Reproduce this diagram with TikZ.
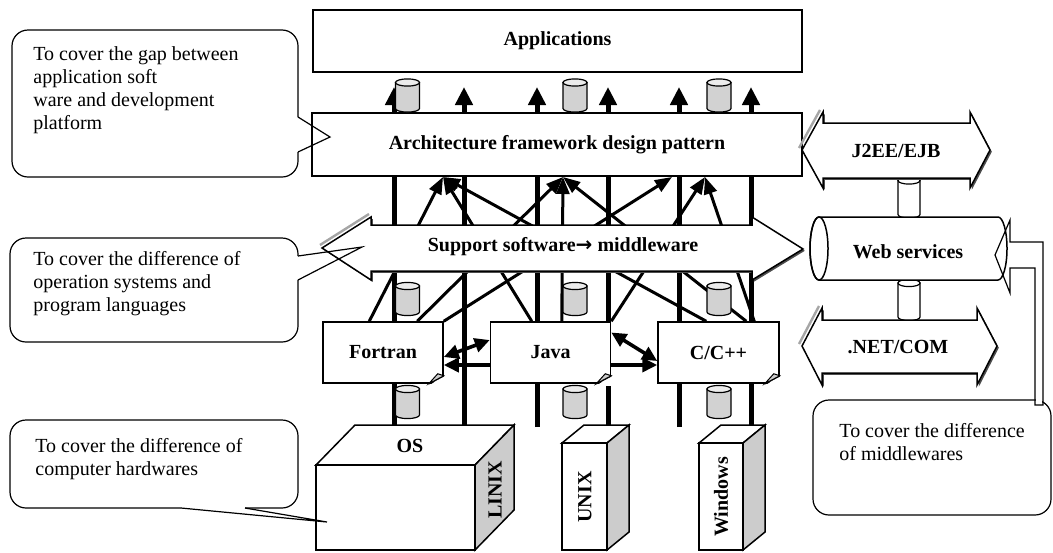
\documentclass[tikz,border=0pt]{standalone}
\usepackage{fontspec}
\setmainfont{Liberation Serif}
\newfontfamily\symfont{DejaVu Sans}
\usetikzlibrary{arrows.meta,shadows}

\tikzset{
  column/.style={line width=2.5pt,-{Triangle[length=9pt,width=8.5pt]}},
  tie/.style={line width=1.5pt,-{Triangle[length=8.5pt,width=6.5pt]}},
  xchg/.style={line width=1.8pt,{Triangle[length=7.5pt,width=7pt]}-{Triangle[length=7.5pt,width=7pt]}},
  oneway/.style={line width=1.8pt,-{Triangle[length=7.5pt,width=7pt]}},
  box/.style={draw,fill=white,line width=0.75pt,font=\bfseries,inner sep=0pt},
  lang/.style={box,minimum width=60pt,minimum height=30.5pt},
  flow/.style={fill=white,line width=0.75pt,drop shadow={shadow xshift=0.9pt,shadow yshift=-0.9pt,fill=black!70,opacity=1}},
  bevel/.style={gray!70,line width=1.2pt},
  hw/.style={line width=0.75pt},
  bubble/.style={line width=0.6pt,rounded corners=8pt},
  callout/.style={line width=0.6pt},
  note/.style={anchor=north west,align=left,inner sep=0pt,font=\fontsize{10pt}{11.5pt}\selectfont},
  can/.pic={
    \draw[line width=0.6pt,fill=gray!35] (-6pt,6.5pt) -- (-6pt,-6.5pt)
      arc[start angle=180,end angle=360,x radius=6pt,y radius=1.8pt] -- (6pt,6.5pt) -- cycle;
    \draw[line width=0.6pt,fill=gray!15] (0pt,6.5pt) ellipse[x radius=6pt,y radius=1.8pt];
  },
  link/.pic={
    \draw[line width=0.6pt,fill=white] (-5.5pt,8.5pt) -- (-5.5pt,-8.5pt)
      arc[start angle=180,end angle=360,x radius=5.5pt,y radius=1.8pt] -- (5.5pt,8.5pt) -- cycle;
    \draw[line width=0.6pt,fill=white] (0pt,8.5pt) ellipse[x radius=5.5pt,y radius=1.8pt];
  }
}

\begin{document}
\begin{tikzpicture}[x=0.5pt,y=-0.5pt]
\useasboundingbox (0,0) rectangle (1053,552);

% columns from the hardware up to the applications
\foreach \x in {394,464,537,608,679,751}
  \draw[column] (\x,427) -- (\x,87);

% program languages
\node[lang] (fortran) at (383,352.5) {Fortran};
\node[lang] (java) at (550.5,352.5) {Java};
\node[lang,minimum width=60.5pt] (cpp) at (718.5,352.5) {C/C++};
\foreach \n in {fortran,java,cpp}{
  \fill[white] ([shift={(-7.5pt,-1pt)}]\n.south east) -- ([shift={(1pt,-1pt)}]\n.south east)
    -- ([shift={(1pt,4.6pt)}]\n.south east) -- cycle;
  \draw[line width=0.75pt] ([xshift=-7.5pt]\n.south east) -- ([yshift=4pt]\n.south east);
  \draw[line width=0.5pt,fill=gray!40] ([xshift=-7.5pt]\n.south east) -- ([yshift=4pt]\n.south east)
    -- ([shift={(-3pt,5pt)}]\n.south east) -- cycle;
}

% two upper layers
\node[box,minimum width=244.5pt,minimum height=31pt] (apps) at (557.5,41) {Applications};
\node[box,minimum width=245pt,minimum height=31.5pt] (arch) at (557,144.5) {Architecture framework design pattern};

% languages tied to the pattern layer
\coordinate (t1) at (443,177);
\coordinate (t2) at (563,177);
\coordinate (t3) at (672,177);
\coordinate (t4) at (705,177);
\draw[tie] ([xshift=23.5pt]fortran.north west) -- (t1);
\draw[tie] ([xshift=47.5pt]fortran.north west) -- (t2);
\draw[tie] (fortran.north east) -- (t3);
\draw[tie] ([xshift=21pt]java.north west) -- (t1);
\draw[tie] ([xshift=36pt]java.north west) -- (t2);
\draw[tie] (java.north east) -- (t4);
\draw[tie] ([xshift=24.5pt]cpp.north west) -- (t1);
\draw[tie] ([xshift=44.5pt]cpp.north west) -- (t2);
\draw[tie] ([xshift=48.5pt]cpp.north west) -- (t4);

% middleware arrow
\draw[flow] (322,248) -- (371,217) -- (371,225) -- (752,225) -- (752,217) -- (803,249)
  -- (752,280) -- (752,271) -- (371,271) -- (371,280) -- cycle;
\draw[bevel] (320,245) -- (369,214);
\node[font=\bfseries] (support) at (563,247) {Support software{\symfont\bfseries →} middleware};

% cans on the columns
\foreach \x in {407.5,575,719}{
  \pic at (\x,95.5) {can};
  \pic at (\x,299) {can};
  \pic at (\x,402) {can};
}

% calls between languages
\draw[xchg] ([yshift=-2.25pt]fortran.east) -- ([yshift=6.25pt]java.west);
\draw[oneway] ([yshift=-6.25pt]java.west) -- ([yshift=-6.25pt]fortran.east);
\draw[xchg] ([yshift=10pt]java.east) -- ([yshift=-4.25pt]cpp.west);
\draw[oneway] ([yshift=-6.25pt]java.east) -- ([yshift=-6.25pt]cpp.west);

% hardware
\draw[hw,fill=white] (316,465) -- (355,425) -- (514,425) -- (475,465) -- cycle;
\draw[hw,fill=white] (316,465) rectangle (475,550);
\draw[hw,fill=gray!40] (475,465) -- (514,425) -- (514,510) -- (475,550) -- cycle;
\node[font=\bfseries] (os) at (410,446) {OS};
\node[font=\bfseries,rotate=90] (linix) at (495,490) {LINIX};

\draw[hw,fill=white] (562,443) -- (584,425) -- (629,425) -- (607,443) -- cycle;
\draw[hw,fill=white] (562,443) rectangle (607,550);
\draw[hw,fill=gray!40] (607,443) -- (629,425) -- (629,532) -- (607,550) -- cycle;
\node[font=\bfseries,rotate=90] (unix) at (585,497) {UNIX};

\draw[hw,fill=white] (699,443) -- (721,425) -- (765,425) -- (743,443) -- cycle;
\draw[hw,fill=white] (699,443) rectangle (743,550);
\draw[hw,fill=gray!40] (743,443) -- (765,425) -- (765,532) -- (743,550) -- cycle;
\node[font=\bfseries,rotate=90] (windows) at (721,497) {Windows};

% middlewares
\pic at (909,197.5) {link};
\pic at (909,300) {link};
\draw[flow] (802,150) -- (823,112) -- (823,123) -- (970,123) -- (970,112) -- (990,150)
  -- (970,188) -- (970,178) -- (823,178) -- (823,188) -- cycle;
\draw[bevel] (799,148) -- (820,110);
\node[font=\bfseries] (j2ee) at (896,151) {J2EE/EJB};
\draw[flow] (802,346) -- (822,308) -- (822,320) -- (977,320) -- (977,308) -- (997,346)
  -- (977,385) -- (977,373) -- (822,373) -- (822,385) -- cycle;
\draw[bevel] (799,344) -- (819,306);
\node[font=\bfseries] (net) at (898,347) {.NET/COM};
\begin{scope}[shift={(908.5,248.5)}]
  \draw[line width=0.75pt,fill=white] (-44.75pt,15.75pt) -- (44.75pt,15.75pt)
    arc[start angle=90,end angle=-90,x radius=4.5pt,y radius=15.75pt] -- (-44.75pt,-15.75pt)
    arc[start angle=270,end angle=90,x radius=4.5pt,y radius=15.75pt] -- cycle;
  \draw[line width=0.75pt] (-44.75pt,0pt) ellipse[x radius=4.5pt,y radius=15.75pt];
\end{scope}
\node[font=\bfseries] (web) at (908,252) {Web services};

% remarks
\draw[bubble] (298,117) -- (298,30) -- (12,30) -- (12,177) -- (298,177) -- (298,152);
\draw[callout] (298,117) -- (330,137) -- (298,152);
\node[note] (gapnote) at (33,46) {To cover the gap between\\application soft\\ware and development\\platform};

\draw[bubble] (298,256) -- (298,238) -- (10,238) -- (10,342) -- (298,342) -- (298,280);
\draw[callout] (298,256) -- (362,247) -- (298,280);
\node[note] (langnote) at (33,251) {To cover the difference of\\operation systems and\\program languages};

\draw[bubble] (813,400) rectangle (1051,515);
\fill[white] (1035.8,397) rectangle (1042.2,403);
\draw[callout] (1035,405) -- (1035,268) -- (1010,268) -- (1010,293) -- (995,255) -- (1010,220)
  -- (1010,242) -- (1043,242) -- (1043,405) -- cycle;
\node[note] (mwnote) at (839,423) {To cover the difference\\of middlewares};

\draw[bubble] (181,508) -- (10,508) -- (10,420) -- (298,420) -- (298,508) -- (245,508);
\draw[callout] (245,508) -- (327,522) -- (181,508);
\node[note] (hwnote) at (35,438) {To cover the difference of\\computer hardwares};
\end{tikzpicture}
\end{document}
